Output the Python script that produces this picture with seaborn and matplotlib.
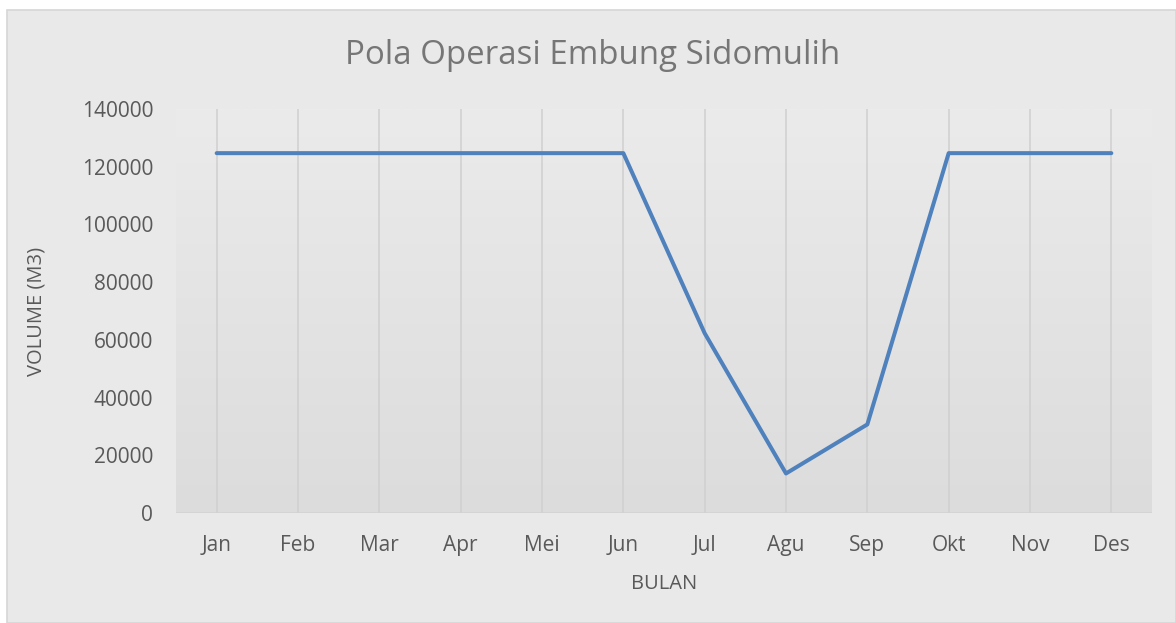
import numpy as np
import pandas as pd
import matplotlib
matplotlib.use("Agg")
import matplotlib.pyplot as plt
import seaborn as sns
from matplotlib.patches import Rectangle

months = ["Jan", "Feb", "Mar", "Apr", "Mei", "Jun", "Jul", "Agu", "Sep", "Okt", "Nov", "Des"]
volume = [124700, 124700, 124700, 124700, 124700, 124700, 62300, 13700, 30700, 124700, 124700, 124700]
y_ticks = [0, 20000, 40000, 60000, 80000, 100000, 120000, 140000]

df = pd.DataFrame({"Bulan": months, "Volume": volume})
df["pos"] = range(len(months))

sns.set_style("white")
plt.rcParams["font.family"] = ["Open Sans", "DejaVu Sans"]

W, H, DPI = 1176, 623, 100
fig = plt.figure(figsize=(W / DPI, H / DPI), dpi=DPI, facecolor="white")

# chart area (Excel style grey box)
fig.patches.append(Rectangle((7 / W, 0), 1 - 7 / W, 1 - 10 / H, transform=fig.transFigure,
                             facecolor="#e9e9e9", edgecolor="#d6d6d6", linewidth=1.2, zorder=-5))

left, right = 176 / W, 1152 / W
bottom, top = 1 - 513 / H, 1 - 109 / H
ax = fig.add_axes([left, bottom, right - left, top - bottom])
ax.set_facecolor("none")

# plot area gradient
grad = np.linspace(0, 1, 256).reshape(-1, 1)
ax.imshow(grad, extent=[-0.5, 11.5, 0, 140000], aspect="auto", origin="upper",
          cmap=matplotlib.colors.LinearSegmentedColormap.from_list("g", ["#ebebeb", "#dcdcdc"]),
          zorder=0)

for p in df["pos"]:
    ax.axvline(p, color="#cfcfcf", linewidth=1.1, zorder=1)

sns.lineplot(data=df, x="pos", y="Volume", ax=ax, color="#4f81bd", linewidth=2.9, zorder=3)

ax.set_xlim(-0.5, 11.5)
ax.set_ylim(0, 140000)
ax.set_xticks(df["pos"])
ax.set_xticklabels(months)
ax.set_yticks(y_ticks)
ax.set_yticklabels([str(v) for v in y_ticks])
for s in ax.spines.values():
    s.set_visible(False)
ax.axhline(0, color="#d3d3d3", linewidth=1.2, zorder=2)
ax.tick_params(axis="both", length=0, labelsize=15, colors="#595959")
ax.tick_params(axis="x", pad=15.5)
ax.tick_params(axis="y", pad=16.5)

ax.set_xlabel("BULAN", fontsize=14.5, color="#595959", labelpad=13)
ax.set_ylabel("VOLUME (M3)", fontsize=14.5, color="#595959")
ax.yaxis.set_label_coords(-0.133, 0.5)

fig.text(593 / W, 1 - 56 / H, "Pola Operasi Embung Sidomulih", ha="center", va="center",
         fontsize=23.8, color="#767676")

fig.savefig("out.png", dpi=DPI, facecolor="white")
